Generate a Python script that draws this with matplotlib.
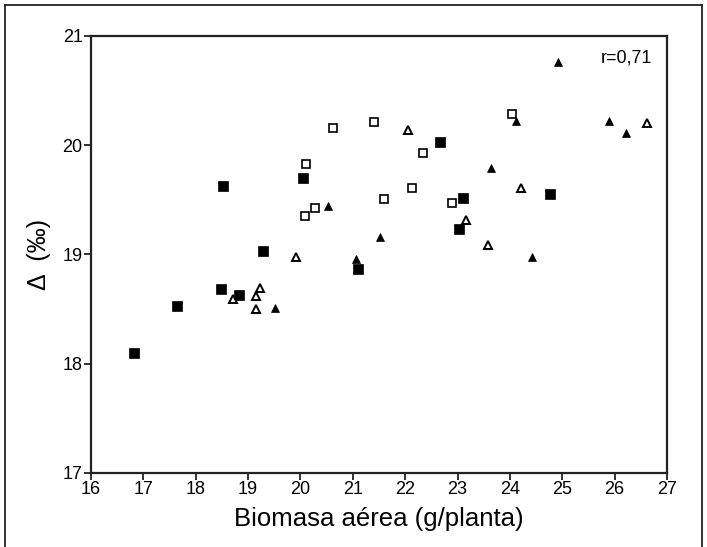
import matplotlib

matplotlib.use("Agg")

import matplotlib.pyplot as plt
from matplotlib import font_manager
from matplotlib.lines import Line2D

plt.rcParams["font.family"] = ["Liberation Sans", "DejaVu Sans"]

# fuente estrecha para los números de los ejes, si existe
names = {f.name for f in font_manager.fontManager.ttflist}
tick_font = "Liberation Sans Narrow" if "Liberation Sans Narrow" in names else "Liberation Sans"

# datos: biomasa (g/planta) vs Delta (‰)
sq_fill_x = [16.83, 17.64, 18.48, 18.52, 18.83, 19.29, 20.05, 21.09, 22.67, 23.02, 23.11, 24.77]
sq_fill_y = [18.10, 18.53, 18.68, 19.63, 18.63, 19.03, 19.70, 18.87, 20.03, 19.23, 19.52, 19.55]

sq_open_x = [20.09, 20.11, 20.28, 20.63, 21.40, 21.60, 22.14, 22.35, 22.89, 24.04]
sq_open_y = [19.35, 19.83, 19.43, 20.16, 20.21, 19.51, 19.61, 19.93, 19.47, 20.29]

tri_fill_x = [19.51, 20.52, 21.07, 21.52, 23.63, 24.12, 24.43, 24.92, 25.90, 26.22]
tri_fill_y = [18.51, 19.44, 18.96, 19.16, 19.79, 20.22, 18.98, 20.76, 20.22, 20.11]

tri_open_x = [18.71, 19.16, 19.16, 19.23, 19.92, 22.06, 23.17, 23.59, 24.21, 26.62]
tri_open_y = [18.59, 18.50, 18.62, 18.69, 18.98, 20.14, 19.32, 19.09, 19.61, 20.20]

x_ticks = list(range(16, 28))
y_ticks = list(range(17, 22))
r_text = "r=0,71"

fig = plt.figure(figsize=(7.07, 5.47), dpi=100)
ax = fig.add_axes([0.1287, 0.1353, 0.8147, 0.7989])

# marco exterior de la figura
for xs, ys in [([0.007, 0.007], [0.0, 0.990]), ([0.007, 0.993], [0.990, 0.990]),
               ([0.993, 0.993], [0.990, 0.0])]:
    fig.add_artist(Line2D(xs, ys, transform=fig.transFigure, color="#222222", lw=1.3))

ax.plot(sq_fill_x, sq_fill_y, ls="none", marker="s", ms=7.0, mfc="black", mec="black", mew=0.5)
ax.plot(sq_open_x, sq_open_y, ls="none", marker="s", ms=5.8, mfc="white", mec="black", mew=1.2)
ax.plot(tri_fill_x, tri_fill_y, ls="none", marker="^", ms=6.3, mfc="black", mec="black", mew=0.5)
ax.plot(tri_open_x, tri_open_y, ls="none", marker="^", ms=5.4, mfc="white", mec="black", mew=1.4)

ax.set_xlim(16, 27)
ax.set_ylim(17, 21)
ax.set_xticks(x_ticks)
ax.set_yticks(y_ticks)
ax.tick_params(direction="out", length=5, width=1.3, labelsize=13, pad=1, color="#222222")
for lab in ax.get_xticklabels() + ax.get_yticklabels():
    lab.set_family(tick_font)

for sp in ax.spines.values():
    sp.set_linewidth(1.6)
    sp.set_color("#222222")

ax.set_xlabel("Biomasa aérea (g/planta)", fontsize=18.5, labelpad=6)
ax.set_ylabel("Δ  (‰)", fontsize=18, labelpad=8)

ax.text(0.975, 0.95, r_text, transform=ax.transAxes, ha="right", va="center", fontsize=13)

fig.savefig("out.png", dpi=100)
